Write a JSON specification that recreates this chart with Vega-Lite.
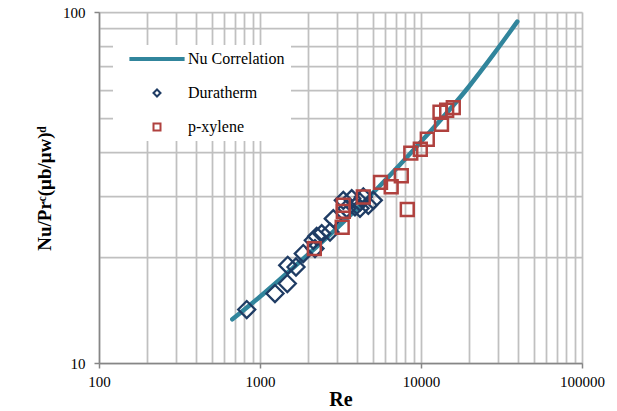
{
  "$schema": "https://vega.github.io/schema/vega-lite/v6.json",
  "width": 483,
  "height": 351,
  "autosize": "none",
  "padding": {"left": 99, "top": 12, "right": 35, "bottom": 48},
  "background": "white",
  "config": {
    "view": {"stroke": null},
    "font": "Liberation Serif",
    "axis": {
      "grid": true,
      "gridColor": "#c0c0c0",
      "gridWidth": 1.75,
      "domainColor": "#868686",
      "domainWidth": 1.5,
      "tickColor": "#868686",
      "tickWidth": 1.5,
      "tickSize": 5,
      "labelFont": "Liberation Serif",
      "labelFontSize": 15,
      "labelColor": "#000000",
      "labelOverlap": false,
      "labelFlush": false,
      "titleFont": "Liberation Serif",
      "titleFontWeight": "bold",
      "titleColor": "#000000"
    }
  },
  "datasets": {
    "curve": [
      {"series": "Nu Correlation", "Re": 673, "Nu": 13.32},
      {"series": "Nu Correlation", "Re": 962, "Nu": 15.22},
      {"series": "Nu Correlation", "Re": 1585, "Nu": 18.58},
      {"series": "Nu Correlation", "Re": 3020, "Nu": 24.27},
      {"series": "Nu Correlation", "Re": 5483, "Nu": 31.78},
      {"series": "Nu Correlation", "Re": 10000, "Nu": 42.68},
      {"series": "Nu Correlation", "Re": 19860, "Nu": 61.35},
      {"series": "Nu Correlation", "Re": 28180, "Nu": 75.7},
      {"series": "Nu Correlation", "Re": 39630, "Nu": 93.85}
    ],
    "duratherm": [
      {"series": "Duratherm", "Re": 827, "Nu": 14.20},
      {"series": "Duratherm", "Re": 1239, "Nu": 15.77},
      {"series": "Duratherm", "Re": 1478, "Nu": 16.84},
      {"series": "Duratherm", "Re": 1486, "Nu": 18.98},
      {"series": "Duratherm", "Re": 1673, "Nu": 18.77},
      {"series": "Duratherm", "Re": 1857, "Nu": 20.50},
      {"series": "Duratherm", "Re": 2143, "Nu": 22.37},
      {"series": "Duratherm", "Re": 2249, "Nu": 22.96},
      {"series": "Duratherm", "Re": 2417, "Nu": 23.37},
      {"series": "Duratherm", "Re": 2196, "Nu": 21.18},
      {"series": "Duratherm", "Re": 2722, "Nu": 23.61},
      {"series": "Duratherm", "Re": 2853, "Nu": 25.78},
      {"series": "Duratherm", "Re": 3292, "Nu": 29.07},
      {"series": "Duratherm", "Re": 3455, "Nu": 27.54},
      {"series": "Duratherm", "Re": 3712, "Nu": 29.40},
      {"series": "Duratherm", "Re": 3890, "Nu": 27.83},
      {"series": "Duratherm", "Re": 4179, "Nu": 28.75},
      {"series": "Duratherm", "Re": 4179, "Nu": 27.59},
      {"series": "Duratherm", "Re": 4382, "Nu": 29.71},
      {"series": "Duratherm", "Re": 4707, "Nu": 28.14},
      {"series": "Duratherm", "Re": 5055, "Nu": 29.07}
    ],
    "pxylene": [
      {"series": "p-xylene", "Re": 2175, "Nu": 21.18},
      {"series": "p-xylene", "Re": 3240, "Nu": 24.36},
      {"series": "p-xylene", "Re": 3292, "Nu": 28.14},
      {"series": "p-xylene", "Re": 3292, "Nu": 27.05},
      {"series": "p-xylene", "Re": 4382, "Nu": 29.71},
      {"series": "p-xylene", "Re": 5604, "Nu": 32.72},
      {"series": "p-xylene", "Re": 6529, "Nu": 31.77},
      {"series": "p-xylene", "Re": 7544, "Nu": 34.15},
      {"series": "p-xylene", "Re": 8219, "Nu": 27.37},
      {"series": "p-xylene", "Re": 8643, "Nu": 39.63},
      {"series": "p-xylene", "Re": 9901, "Nu": 40.63},
      {"series": "p-xylene", "Re": 10942, "Nu": 43.39},
      {"series": "p-xylene", "Re": 13410, "Nu": 47.86},
      {"series": "p-xylene", "Re": 13122, "Nu": 51.80},
      {"series": "p-xylene", "Re": 14438, "Nu": 52.48},
      {"series": "p-xylene", "Re": 15871, "Nu": 53.41}
    ]
  },
  "encoding": {
    "x": {
      "field": "Re",
      "type": "quantitative",
      "scale": {"type": "log", "domain": [100, 100000], "nice": false},
      "axis": {
        "title": "Re",
        "titleFontSize": 20,
        "titlePadding": 0,
        "values": [100, 200, 300, 400, 500, 600, 700, 800, 900, 1000, 2000, 3000, 4000, 5000, 6000, 7000, 8000, 9000, 10000, 20000, 30000, 40000, 50000, 60000, 70000, 80000, 90000, 100000],
        "format": "d",
        "labelPadding": 6,
        "labelExpr": "indexof([100, 1000, 10000, 100000], datum.value) >= 0 ? datum.label : ''",
        "tickOpacity": {"condition": {"test": "indexof([100, 1000, 10000, 100000], datum.value) >= 0", "value": 1}, "value": 0}
      }
    },
    "y": {
      "field": "Nu",
      "type": "quantitative",
      "scale": {"type": "log", "domain": [10, 100], "nice": false},
      "axis": {
        "title": "Nu/Prᶜ(μb/μw)ᵈ",
        "titleFontSize": 19,
        "titleAngle": -90,
        "titleX": -49,
        "titleY": 176,
        "titleAlign": "center",
        "titleBaseline": "alphabetic",
        "values": [10, 20, 30, 40, 50, 60, 70, 80, 90, 100],
        "format": "d",
        "labelPadding": 9,
        "labelExpr": "datum.value === 10 || datum.value === 100 ? datum.label : ''",
        "tickOpacity": {"condition": {"test": "datum.value === 10 || datum.value === 100", "value": 1}, "value": 0}
      }
    },
    "color": {
      "field": "series",
      "type": "nominal",
      "scale": {"domain": ["Nu Correlation", "Duratherm", "p-xylene"], "range": ["#31859c", "#1f3c64", "#b0413e"]},
      "legend": {
        "orient": "none",
        "legendX": 14,
        "legendY": 33,
        "title": null,
        "fillColor": "white",
        "padding": 6,
        "rowPadding": 18,
        "symbolSize": 49,
        "symbolOffset": 30,
        "labelOffset": 23,
        "symbolStrokeWidth": 2,
        "labelFont": "Liberation Serif",
        "labelFontSize": 16,
        "labelColor": "#000000",
        "encode": {
          "symbols": {
            "update": {
              "strokeWidth": {"value": 2},
              "size": {"value": 49},
              "fill": {"value": "transparent"}
            }
          }
        }
      }
    }
  },
  "layer": [
    {
      "data": {"name": "curve"},
      "mark": {"type": "line", "strokeWidth": 4.5, "strokeCap": "round", "interpolate": "monotone"}
    },
    {
      "data": {"name": "duratherm"},
      "mark": {"type": "point", "filled": false, "strokeWidth": 2.3, "opacity": 1, "size": 290},
      "encoding": {
        "shape": {
          "field": "series",
          "type": "nominal",
          "scale": {"domain": ["Nu Correlation", "Duratherm", "p-xylene"], "range": ["M-7.6,-0.28H7.6V0.28H-7.6Z", "diamond", "square"]}
        }
      }
    },
    {
      "data": {"name": "pxylene"},
      "mark": {"type": "point", "filled": false, "strokeWidth": 2.5, "opacity": 1, "size": 165},
      "encoding": {
        "shape": {
          "field": "series",
          "type": "nominal",
          "scale": {"domain": ["Nu Correlation", "Duratherm", "p-xylene"], "range": ["M-7.6,-0.28H7.6V0.28H-7.6Z", "diamond", "square"]}
        }
      }
    }
  ]
}
